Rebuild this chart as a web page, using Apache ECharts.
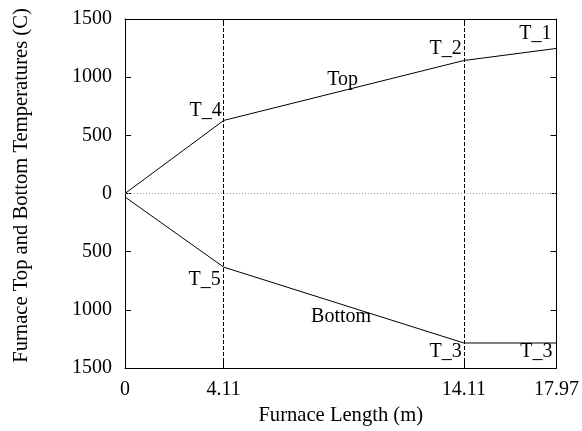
<!DOCTYPE html>
<html>
<head>
<meta charset="utf-8">
<script src="https://cdn.jsdelivr.net/npm/echarts@6/dist/echarts.min.js"></script>
<style>html,body{margin:0;padding:0;background:#fff;}#c{width:582px;height:431px;}</style>
</head>
<body>
<div id="c"></div>
<script>
// Data
const xPos = [0, 4.11, 14.11, 17.97];
const topTemps = [0, 628, 1143, 1247];
const bottomTemps = [-30, -633, -1285, -1285];
const topPointNames = ['', 'T_4', 'T_2', 'T_1'];
const bottomPointNames = ['', 'T_5', 'T_3', 'T_3'];
const xTickValues = [0, 4.11, 14.11, 17.97];
const zoneBoundaries = [4.11, 14.11];
const seriesNames = ['Top', 'Bottom'];
const seriesLabelAnchors = [[9.06, 980], [9.0, -1058]];

const FONT = "'Liberation Serif', 'Times New Roman', serif";
const FS = 20;
const NFS = 20.6;

const topOffsets = [[0,0],[-2,-10],[-2,-12],[-5,-15]];
const bottomOffsets = [[0,0],[-3,13],[-2,9],[-4,9]];

function buildData(ys, names, offsets) {
  return xPos.map((x, i) => ({
    value: [x, ys[i]],
    label: {
      show: names[i] !== '',
      formatter: names[i],
      position: 'left',
      distance: 0,
      offset: offsets[i],
      fontFamily: FONT,
      fontSize: FS,
      color: '#000'
    }
  }));
}

const chart = echarts.init(document.getElementById('c'), null, {renderer: 'canvas'});
const axisLine = {show: true, onZero: false, lineStyle: {color: '#000', width: 1}};
const option = {
  animation: false,
  backgroundColor: '#fff',
  grid: {left: 125, right: 25, top: 19, bottom: 63},
  xAxis: [{
    type: 'value', min: 0, max: 17.97, position: 'bottom',
    name: 'Furnace Length (m)', nameLocation: 'middle', nameGap: 34,
    nameTextStyle: {fontFamily: FONT, fontSize: NFS, color: '#000'},
    axisLine: axisLine,
    axisTick: {show: true, inside: true, length: 6, customValues: xTickValues, lineStyle: {color: '#000'}},
    axisLabel: {customValues: xTickValues, fontFamily: FONT, fontSize: FS, color: '#000', margin: 12,
      formatter: v => String(v)},
    splitLine: {show: false}
  }, {
    type: 'value', min: 0, max: 17.97, position: 'top',
    axisLine: axisLine,
    axisTick: {show: true, inside: true, length: 6, customValues: xTickValues, lineStyle: {color: '#000'}},
    axisLabel: {show: false},
    splitLine: {show: false}
  }],
  yAxis: [{
    type: 'value', min: -1500, max: 1500, interval: 500, position: 'left',
    name: 'Furnace Top and Bottom Temperatures (C)', nameLocation: 'middle', nameGap: 93,
    nameTextStyle: {fontFamily: FONT, fontSize: NFS, color: '#000', padding: [0, 0, 0, 16]},
    axisLine: axisLine,
    axisTick: {show: true, inside: true, length: 6, lineStyle: {color: '#000'}},
    axisLabel: {fontFamily: FONT, fontSize: FS, color: '#000', margin: 13,
      formatter: v => String(Math.abs(v))},
    splitLine: {show: false}
  }, {
    type: 'value', min: -1500, max: 1500, interval: 500, position: 'right',
    axisLine: axisLine,
    axisTick: {show: true, inside: true, length: 6, lineStyle: {color: '#000'}},
    axisLabel: {show: false},
    splitLine: {show: false}
  }],
  series: [{
    name: seriesNames[0], type: 'line',
    data: buildData(topTemps, topPointNames, topOffsets),
    symbol: 'circle', symbolSize: 0, showSymbol: true,
    lineStyle: {color: '#000', width: 1},
    itemStyle: {color: '#000'},
    markLine: {
      silent: true, symbol: 'none', label: {show: false},
      data: zoneBoundaries.map(v => ({xAxis: v, lineStyle: {color: '#000', width: 1, type: [4, 2]}}))
        .concat([{yAxis: 0, lineStyle: {color: '#999', width: 1, type: [1, 2]}}])
    },
    z: 3
  }, {
    name: seriesNames[1], type: 'line',
    data: buildData(bottomTemps, bottomPointNames, bottomOffsets),
    symbol: 'circle', symbolSize: 0, showSymbol: true,
    lineStyle: {color: '#000', width: 1},
    itemStyle: {color: '#000'},
    z: 3
  }, {
    type: 'line', symbolSize: 0, showSymbol: true, symbol: 'circle',
    lineStyle: {width: 0, opacity: 0},
    data: seriesLabelAnchors.map((p, i) => ({value: p, name: seriesNames[i]})),
    label: {show: true, position: 'inside', formatter: '{b}', fontFamily: FONT, fontSize: FS, color: '#000', opacity: 1},
    itemStyle: {color: '#000', opacity: 1},
    silent: true,
    z: 4
  }]
};
chart.setOption(option);
</script>
</body>
</html>
